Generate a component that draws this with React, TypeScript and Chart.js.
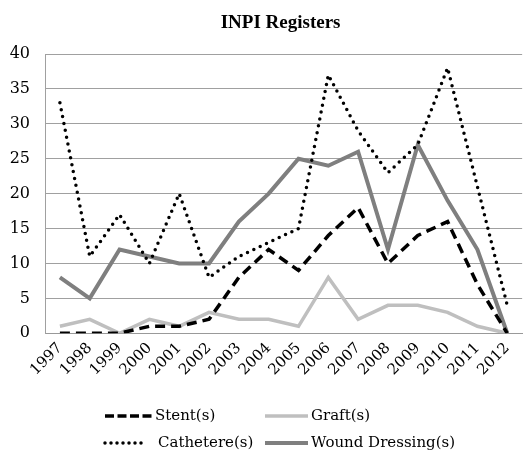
import React, { useEffect, useRef } from "react";
import { Chart, registerables } from "chart.js";

Chart.register(...registerables);

const years = ["1997","1998","1999","2000","2001","2002","2003","2004","2005","2006","2007","2008","2009","2010","2011","2012"];
const stent = [0, 0, 0, 1, 1, 2, 8, 12, 9, 14, 18, 10, 14, 16, 7, 0];
const graft = [1, 2, 0, 2, 1, 3, 2, 2, 1, 8, 2, 4, 4, 3, 1, 0];
const cathetere = [33, 11, 17, 10, 20, 8, 11, 13, 15, 37, 29, 23, 27, 38, 21, 4];
const wound = [8, 5, 12, 11, 10, 10, 16, 20, 25, 24, 26, 12, 27, 19, 12, 0];
const titleText = "INPI Registers";

const FONT = "'DejaVu Serif', serif";

const legendPlugin = {
  id: "gridLegend",
  afterDraw(chart: any) {
    const ctx = chart.ctx;
    const ds = chart.data.datasets;
    const area = chart.chartArea;
    ctx.save();
    ctx.fillStyle = "#000";
    ctx.font = `bold 19px 'Liberation Serif', serif`;
    ctx.textAlign = "center";
    ctx.textBaseline = "middle";
    ctx.fillText(titleText, (area.left + area.right) / 2 - 3, 23);

    const items = [
      { i: 0, x: 105, y: 416, lineEnd: 152, textX: 155 },
      { i: 1, x: 265, y: 416, lineEnd: 308, textX: 311 },
      { i: 2, x: 105, y: 443, lineEnd: 142, textX: 158 },
      { i: 3, x: 265, y: 443, lineEnd: 308, textX: 311 },
    ];
    for (const it of items) {
      const d = ds[it.i];
      ctx.beginPath();
      ctx.strokeStyle = d.borderColor;
      ctx.lineWidth = d.borderWidth;
      ctx.lineCap = d.borderCapStyle || "butt";
      ctx.setLineDash(d.legendDash || []);
      ctx.moveTo(it.x, it.y);
      ctx.lineTo(it.lineEnd, it.y);
      ctx.stroke();
      ctx.setLineDash([]);
      ctx.fillStyle = "#000";
      ctx.font = `15px ${FONT}`;
      ctx.textBaseline = "middle";
      ctx.textAlign = "left";
      ctx.fillText(d.label, it.textX, it.y);
    }
    ctx.restore();
  },
};

export default function App() {
  const ref = useRef<HTMLCanvasElement>(null);
  useEffect(() => {
    document.body.style.margin = "0";
    const chart = new Chart(ref.current!, {
      type: "line",
      data: {
        labels: years,
        datasets: [
          {
            label: "Stent(s)",
            data: stent,
            borderColor: "#000000",
            borderWidth: 3.5,
            borderDash: [10, 6],
            legendDash: [9, 3.5],
            pointRadius: 0,
          } as any,
          {
            label: "Graft(s)",
            data: graft,
            borderColor: "#bfbfbf",
            borderWidth: 3.5,
            pointRadius: 0,
          },
          {
            label: "Cathetere(s)",
            data: cathetere,
            borderColor: "#000000",
            borderWidth: 3.5,
            borderDash: [0, 7],
            legendDash: [0, 6],
            borderCapStyle: "round",
            pointRadius: 0,
          } as any,
          {
            label: "Wound Dressing(s)",
            data: wound,
            borderColor: "#7f7f7f",
            borderWidth: 4,
            pointRadius: 0,
          },
        ],
      },
      options: {
        animation: false,
        responsive: false,
        maintainAspectRatio: false,
        layout: { padding: { top: 54, right: 1, bottom: 66, left: 0 } },
        plugins: {
          legend: { display: false },
          tooltip: { enabled: false },
          title: { display: false },
        },
        scales: {
          x: {
            offset: true,
            grid: { display: false, drawTicks: false },
            border: { display: true, color: "#999999", width: 1 },
            ticks: {
              color: "#000",
              font: { family: FONT, size: 15 },
              maxRotation: 45,
              minRotation: 45,
              autoSkip: false,
              padding: 6,
            },
          },
          y: {
            min: 0,
            max: 40,
            afterFit: (scale: any) => {
              scale.width = 45;
            },
            grid: { color: "#a0a0a0", lineWidth: 1, drawTicks: false },
            border: { display: true, color: "#a0a0a0", width: 1 },
            ticks: {
              stepSize: 5,
              color: "#000",
              font: { family: FONT, size: 16 },
              padding: 15,
            },
          },
        },
      },
      plugins: [legendPlugin],
    } as any);
    return () => chart.destroy();
  }, []);
  return (
    <div style={{ width: 526, height: 451 }}>
      <canvas ref={ref} width={526} height={451} style={{ display: "block" }} />
    </div>
  );
}
